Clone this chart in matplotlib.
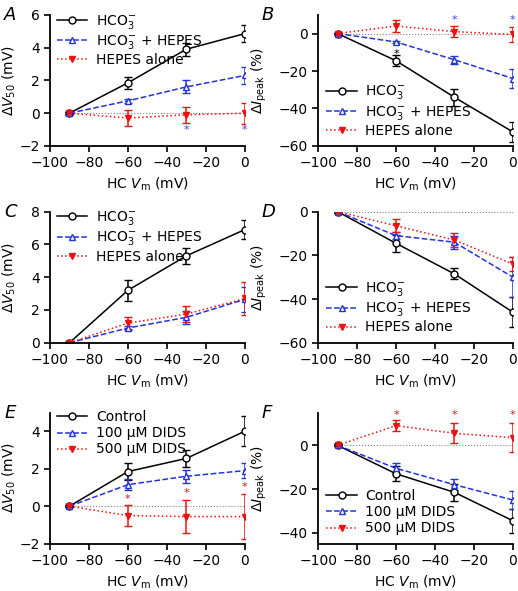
import numpy as np
import matplotlib
matplotlib.use("Agg")
import matplotlib.pyplot as plt

# ----------------------------
# Data
# ----------------------------

vm = [-90, -60, -30, 0]

lab_hco3 = ["HCO$_3^{-}$", "HCO$_3^{-}$ + HEPES", "HEPES alone"]
lab_dids = ["Control", "100 \u03bcM DIDS", "500 \u03bcM DIDS"]

# A: dV50
a_hco3 = [0, 1.85, 3.9, 4.85]
a_hco3_err = [0.1, 0.35, 0.4, 0.5]
a_both = [0, 0.75, 1.6, 2.3]
a_both_err = [0.05, 0.1, 0.4, 0.5]
a_hepes = [0, -0.3, -0.1, 0.0]
a_hepes_err = [0.05, 0.5, 0.5, 0.65]

# B: dIpeak
b_hco3 = [0, -14.5, -34, -52.5]
b_hco3_err = [0.5, 3, 4.5, 5.5]
b_both = [0, -4.5, -14, -24]
b_both_err = [0.5, 0.5, 2, 5]
b_hepes = [0, 4, 1, -0.5]
b_hepes_err = [0.5, 3, 3, 4]

# C: dV50
c_hco3 = [0, 3.2, 5.3, 6.9]
c_hco3_err = [0.05, 0.65, 0.5, 0.6]
c_both = [0, 0.9, 1.55, 2.65]
c_both_err = [0.05, 0.1, 0.4, 0.75]
c_hepes = [0, 1.2, 1.75, 2.7]
c_hepes_err = [0.05, 0.35, 0.5, 1.0]

# D: dIpeak
d_hco3 = [0, -14.5, -28.5, -46]
d_hco3_err = [0.5, 4, 2.5, 7]
d_both = [0, -11, -14, -30]
d_both_err = [0.5, 1.5, 3, 9]
d_hepes = [0, -6.5, -13, -24]
d_hepes_err = [0.5, 3, 3, 3]

# E: dV50 with DIDS
e_ctrl = [0, 1.85, 2.55, 4.0]
e_ctrl_err = [0.05, 0.45, 0.45, 0.8]
e_100 = [0, 1.15, 1.6, 1.9]
e_100_err = [0.05, 0.3, 0.35, 0.4]
e_500 = [0, -0.5, -0.55, -0.55]
e_500_err = [0.05, 0.55, 0.9, 1.2]

# F: dIpeak with DIDS
f_ctrl = [0, -13, -21.5, -34.5]
f_ctrl_err = [0.5, 3.5, 4, 5.5]
f_100 = [0, -10.5, -18, -25]
f_100_err = [0.5, 2.5, 2.5, 4]
f_500 = [0, 9, 5.5, 3.5]
f_500_err = [0.5, 2.5, 4.5, 6.5]

# significance stars: (x, y, colour)
a_stars = [(-30, -1.0, "blue"), (0, -1.0, "blue")]
b_stars = [(-60, -11, "black"), (-30, 7, "blue"), (0, 7, "blue")]
e_stars = [(-60, 0.4, "red"), (-30, 0.7, "red"), (0, 1.0, "red")]
f_stars = [(-60, 14, "red"), (-30, 14, "red"), (0, 14, "red")]

# ----------------------------
# Plot
# ----------------------------

plt.rcParams["font.family"] = "DejaVu Sans"
plt.rcParams["font.size"] = 10
plt.rcParams["mathtext.default"] = "regular"

fig = plt.figure(figsize=(5.18, 5.91), dpi=100)

W, H = 0.376, 0.222
lefts = [0.0965, 0.614]
bottoms = [0.753, 0.420, 0.080]

star_col = {"blue": "#3344ee", "red": "#ee1111", "black": "black"}

styles = [
    dict(color="black", ls="-", marker="o", mfc="white", ms=5),
    dict(color="#2233dd", ls="--", marker="^", mfc="white", ms=5),
    dict(color="#ee1111", ls=":", marker="v", mfc="#ee1111", ms=5),
]


def panel(ax, series, labels, letter, ylim, yticks, ylabel, loc, stars=(),
          right=False):
    ax.plot([vm[0], vm[-1]], [0, 0], color="gray", ls=":", lw=0.8, zorder=0)
    for (y, err), st, lab in zip(series, styles, labels):
        ax.errorbar(vm, y, yerr=err, capsize=3, lw=1.1, elinewidth=1.1,
                    mew=1.0, **st)
        ax.plot([], [], lw=1.1, mew=1.0, label=lab, **st)
    for x, y, c in stars:
        ax.text(x, y, "*", color=star_col[c], ha="center", va="center",
                fontsize=8)
    ax.set_xlim(-100, 0)
    ax.set_xticks([-100, -80, -60, -40, -20, 0])
    ax.set_ylim(*ylim)
    ax.set_yticks(yticks)
    ax.set_xlabel("HC $\\mathit{V}_{m}$ (mV)")
    ax.set_ylabel(ylabel)
    ax.yaxis.set_label_coords(-0.25 if right else -0.165, 0.5)
    ax.spines["top"].set_visible(False)
    ax.spines["right"].set_visible(False)
    ax.spines["left"].set_linewidth(1.3)
    ax.spines["bottom"].set_linewidth(1.3)
    ax.tick_params(direction="out", width=1.2, length=4)
    if loc == "upper left":
        ax.legend(loc=loc, bbox_to_anchor=(0.0, 1.07), frameon=False,
                  handlelength=2.2, handletextpad=0.6, labelspacing=0.15,
                  borderaxespad=0.1)
    else:
        ax.legend(loc=loc, frameon=False, handlelength=2.2,
                  handletextpad=0.6, labelspacing=0.15, borderaxespad=0.2)
    ax.text(-0.29 if right else -0.235, 1.0, letter, transform=ax.transAxes,
            fontsize=13, fontstyle="italic", ha="left", va="center")


v50 = "\u0394$\\mathit{V}_{50}$ (mV)"
ipk = "\u0394$\\mathit{I}_{peak}$ (%)"

axA = fig.add_axes([lefts[0], bottoms[0], W, H])
panel(axA, [(a_hco3, a_hco3_err), (a_both, a_both_err), (a_hepes, a_hepes_err)],
      lab_hco3, "A", (-2, 6), [-2, 0, 2, 4, 6], v50, "upper left", a_stars)

axB = fig.add_axes([lefts[1], bottoms[0], W, H])
panel(axB, [(b_hco3, b_hco3_err), (b_both, b_both_err), (b_hepes, b_hepes_err)],
      lab_hco3, "B", (-60, 10), [-60, -40, -20, 0], ipk, "lower left", b_stars,
      right=True)

axC = fig.add_axes([lefts[0], bottoms[1], W, H])
panel(axC, [(c_hco3, c_hco3_err), (c_both, c_both_err), (c_hepes, c_hepes_err)],
      lab_hco3, "C", (0, 8), [0, 2, 4, 6, 8], v50, "upper left")

axD = fig.add_axes([lefts[1], bottoms[1], W, H])
panel(axD, [(d_hco3, d_hco3_err), (d_both, d_both_err), (d_hepes, d_hepes_err)],
      lab_hco3, "D", (-60, 0), [-60, -40, -20, 0], ipk, "lower left",
      right=True)

axE = fig.add_axes([lefts[0], bottoms[2], W, H])
panel(axE, [(e_ctrl, e_ctrl_err), (e_100, e_100_err), (e_500, e_500_err)],
      lab_dids, "E", (-2, 5), [-2, 0, 2, 4], v50, "upper left", e_stars)

axF = fig.add_axes([lefts[1], bottoms[2], W, H])
panel(axF, [(f_ctrl, f_ctrl_err), (f_100, f_100_err), (f_500, f_500_err)],
      lab_dids, "F", (-45, 15), [-40, -20, 0], ipk, "lower left", f_stars,
      right=True)

fig.savefig("out.png", dpi=100)
